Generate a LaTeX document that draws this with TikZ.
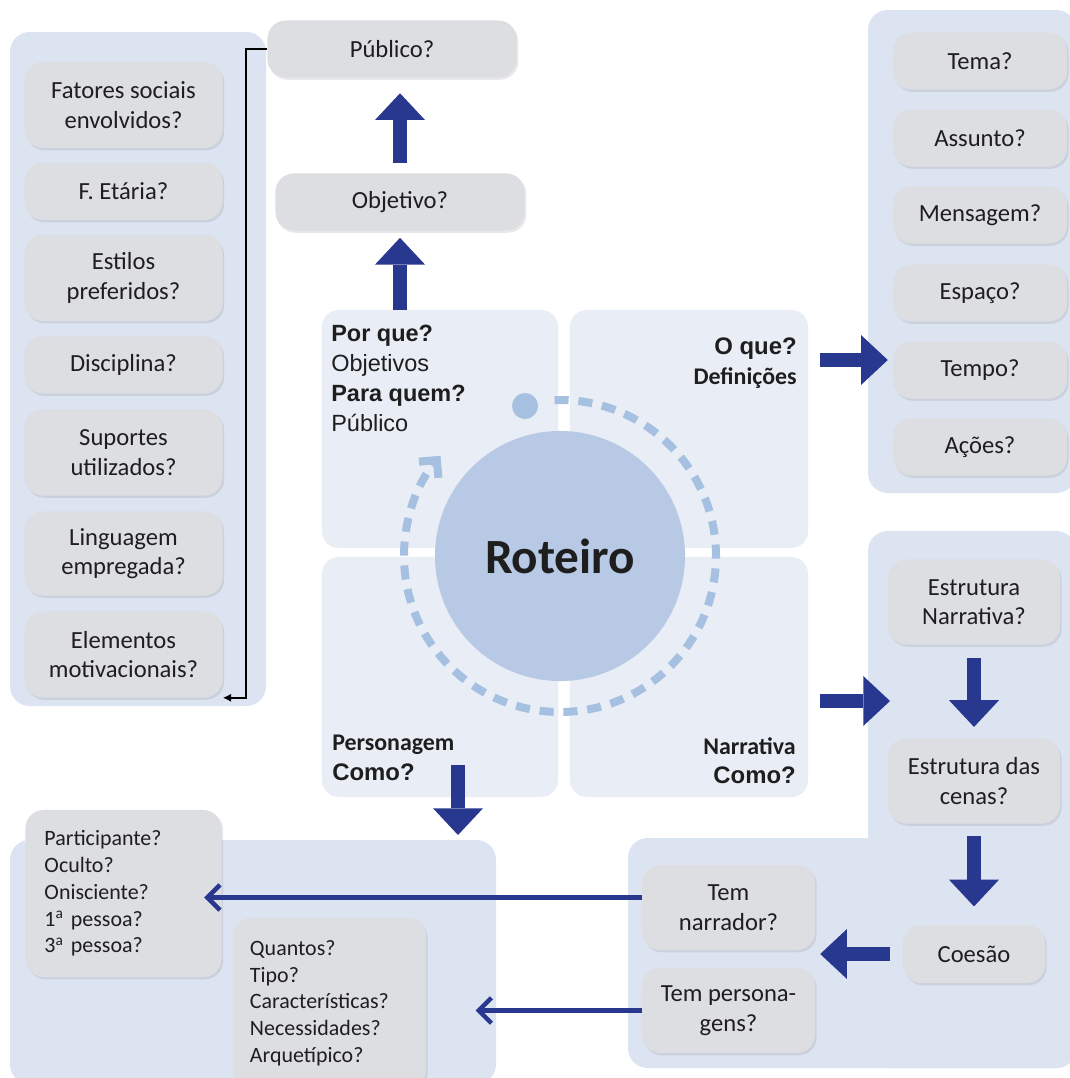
\documentclass[tikz,border=0pt]{standalone}
\usepackage{fontspec}
\setmainfont{Carlito}
\newfontfamily\arialfont{Liberation Sans}
\usetikzlibrary{arrows.meta,calc,shadows}
\definecolor{panelblue}{RGB}{220,227,241}
\definecolor{quadblue}{RGB}{233,237,245}
\definecolor{boxgray}{RGB}{221,222,225}
\definecolor{hubblue}{RGB}{183,201,228}
\definecolor{ringblue}{RGB}{166,192,225}
\definecolor{navy}{RGB}{41,56,143}
\definecolor{ink}{RGB}{30,30,30}
\begin{document}
\begin{tikzpicture}[x=0.025cm,y=-0.025cm,
  box/.style={rectangle, rounded corners=13pt, fill=boxgray, text=ink, align=center, inner sep=0pt,
    font=\fontsize{17.5}{21}\selectfont, drop shadow={opacity=0.18, shadow xshift=1.2pt, shadow yshift=-1.6pt}},
  lbox/.style={box, minimum width=4.95cm},
  rbox/.style={box, minimum width=4.35cm, minimum height=1.425cm},
  onerow/.style={minimum height=1.425cm},
  tworow/.style={minimum height=2.15cm},
  listbox/.style={box, align=left, font=\fontsize{15.6}{19}\selectfont},
  quad/.style={rectangle, rounded corners=12pt, fill=quadblue, inner sep=0pt, outer sep=0pt},
  qtext/.style={inner sep=0pt, text=ink, font=\fontsize{17}{21}\selectfont\bfseries},
  panel/.style={fill=panelblue, rounded corners=14pt},
  fatarrow/.style={navy, line width=10pt, -{Triangle[length=19pt,width=35.5pt,line width=0pt]}},
  thinarrow/.style={navy, line width=3.2pt, -{Straight Barb[length=9pt,width=18pt]}},
  elbow/.style={black, line width=1.2pt, -{Latex[length=6pt,width=6pt]}},
  ringline/.style={ringblue, line width=5.7pt, dash pattern=on 10pt off 7pt, -{Straight Barb[length=9pt,width=18pt]}}
]
\useasboundingbox (0,0) rectangle (1070,1078);
\clip (0,0) rectangle (1070,1078);
\fill[white] (0,0) rectangle (1070,1078);

\fill[panel] (10,32) rectangle (266,706);
\fill[panel] (868,10) rectangle (1076,493);
\fill[panel] (868,531) rectangle (1076,1068);
\fill[panel] (628,838) rectangle (1076,1068);
\fill[panel] (10,840) rectangle (496,1084);

\node[quad, minimum width=5.9cm, minimum height=5.95cm] (qtl) at (440,429) {};
\node[quad, minimum width=5.95cm, minimum height=5.95cm] (qtr) at (689,429) {};
\node[quad, minimum width=5.9cm, minimum height=6cm] (qbl) at (440,677) {};
\node[quad, minimum width=5.95cm, minimum height=6cm] (qbr) at (689,677) {};

\node[circle, fill=hubblue, minimum size=6.25cm, inner sep=0pt, text=ink,
  font=\fontsize{35}{40}\selectfont\bfseries] (rot) at (560,556) {Roteiro};
\node[circle, fill=ringblue, minimum size=0.65cm, inner sep=0pt] (dot) at (525,406) {};
\draw[ringline] ($(rot)+(-92:156)$) arc[start angle=-92, end angle=220, radius=156];

\node[qtext, anchor=north west, align=left, font=\arialfont\fontsize{16.7}{21.3}\selectfont] (pq) at (331,325)
  {\textbf{Por que?}\\Objetivos\\\textbf{Para quem?}\\Público};
\node[qtext, anchor=north east, align=right] (oq) at (797,338) {{\arialfont O que?}\\Definições};
\node[qtext, anchor=north west, align=left] (pc) at (332,735) {Personagem\\{\arialfont Como?}};
\node[qtext, anchor=north east, align=right] (nc) at (796,737) {Narrativa\\{\arialfont Como?}};

\node[box, minimum width=6.225cm, onerow] (pub) at (392,49) {Público?};
\node[box, minimum width=6.225cm, onerow] (obj) at (400,202) {Objetivo?};

\node[lbox, tworow] (fat) at (123.5,105) {Fatores sociais\\envolvidos?};
\node[lbox, onerow] (fet) at (123.5,191.5) {F. Etária?};
\node[lbox, tworow] (est) at (123.5,278) {Estilos\\preferidos?};
\node[lbox, onerow] (dis) at (123.5,365) {Disciplina?};
\node[lbox, tworow] (sup) at (123.5,452.5) {Suportes\\utilizados?};
\node[lbox, minimum height=2.1cm] (lin) at (123.5,553.5) {Linguagem\\empregada?};
\node[lbox, tworow] (ele) at (123.5,654.5) {Elementos\\motivacionais?};

\node[rbox] (tema) at (980,61) {Tema?};
\node[rbox] (ass) at (980,138) {Assunto?};
\node[rbox] (men) at (980,215) {Mensagem?};
\node[rbox] (esp) at (980,293) {Espaço?};
\node[rbox] (tem) at (980,370) {Tempo?};
\node[rbox] (aco) at (980,447) {Ações?};

\node[box, minimum width=4.3cm, minimum height=2.125cm] (en) at (974,602) {Estrutura\\Narrativa?};
\node[box, minimum width=4.3cm, minimum height=2.125cm] (ec) at (974,781) {Estrutura das\\cenas?};
\node[box, minimum width=3.55cm, minimum height=1.45cm] (coe) at (974,954) {Coesão};
\node[box, minimum width=4.325cm, minimum height=2.125cm] (narr) at (728.5,907.5) {Tem\\narrador?};
\node[box, minimum width=4.325cm, minimum height=2.125cm] (pers) at (728.5,1010.5) {Tem persona-\\gens?};

\node[listbox, text width=3.95cm, minimum width=4.9cm, minimum height=4.175cm] (part) at (123.5,893.5)
  {Participante?\\Oculto?\\Onisciente?\\1\textsuperscript{a} pessoa?\\3\textsuperscript{a} pessoa?};
\node[listbox, text width=3.975cm, minimum width=4.825cm, minimum height=4.25cm] (qua) at (329.5,1003)
  {Quantos?\\Tipo?\\Características?\\Necessidades?\\Arquetípico?};

\coordinate (tt) at ($(tem.west)+(0,-10)$);
\coordinate (nt) at (890,701);
\coordinate (ps) at (458,765);
\coordinate (pt) at (458,835);
\coordinate (nw) at ($(narr.west)+(0,-10)$);

\draw[fatarrow, shorten <=7pt, shorten >=11pt] (obj.north) -- (obj.north |- pub.south);
\draw[fatarrow, shorten >=5pt] (obj.south |- qtl.north) -- (obj.south);
\draw[fatarrow, shorten <=8.5pt, shorten >=3.5pt] (qtr.east |- tt) -- (tt);
\draw[fatarrow, shorten <=8.5pt] (qbr.east |- nt) -- (nt);
\draw[fatarrow] (ps) -- (pt);
\draw[fatarrow, shorten <=9.5pt, shorten >=8pt] (en) -- (ec);
\draw[fatarrow, shorten <=9pt, shorten >=13pt] (ec) -- (coe);
\draw[fatarrow, shorten <=9pt, shorten >=3.5pt] (coe.west) -- (coe.west -| narr.east);
\draw[thinarrow, shorten >=-12.5pt] (nw) -- (nw -| part.east);
\draw[thinarrow, shorten >=35pt] (pers.west) -- (pers.west -| qua.east);
\draw[elbow] (pub.west) -- ++(-21,0) |- (ele.south east);
\end{tikzpicture}
\end{document}
